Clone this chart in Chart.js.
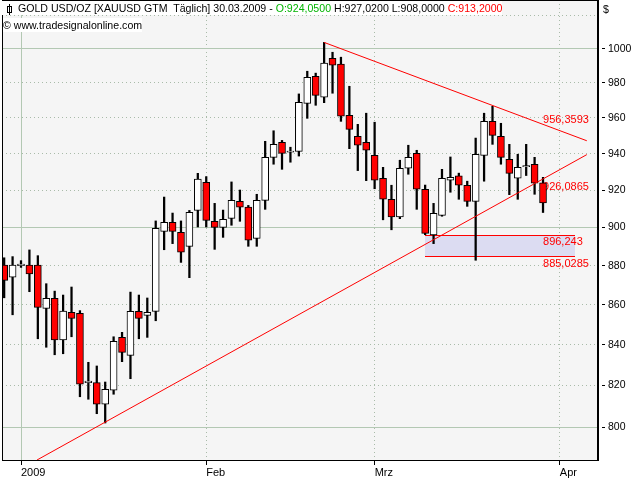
<!DOCTYPE html>
<html>
<head>
<meta charset="utf-8">
<script src="https://cdn.jsdelivr.net/npm/chart.js@4.4.1/dist/chart.umd.min.js"></script>
<style>
  body { margin: 0; background: #fff; }
  #wrap { position: relative; width: 640px; height: 480px; }
  .hdr { position: absolute; font: 10.6px "Liberation Sans", Arial, sans-serif; white-space: pre; background: #fff; line-height: 14px; color: #000; }
  .icon { display: inline-block; width: 3px; height: 5px; border: 1px solid #000; margin: 0 6px 0 5px; vertical-align: -1px; position: relative; }
  .icon:before { content: ""; position: absolute; left: 1px; top: -3px; width: 1px; height: 11px; background: #000; }
</style>
</head>
<body>
<div id="wrap">
  <canvas id="myChart" width="640" height="480"></canvas>
  <div class="hdr" style="left:2px; top:1px;"><span class="icon"></span>GOLD USD/OZ [XAUUSD GTM  Täglich] 30.03.2009 - <span style="color:#00b400">O:924,0500</span> H:927,0200 L:908,0000 <span style="color:#ff0000">C:913,2000</span></div>
  <div class="hdr" style="left:3px; top:18px;">© www.tradesignalonline.com</div>
  <div class="hdr" style="left:603px; top:2px; background:none;">$</div>
</div>
<script>
// trading days shown, 30.12.2008 .. 30.03.2009
const dates = [
  '30.12.2008', '31.12.2008',
  '01.01.2009', '02.01.2009', '05.01.2009', '06.01.2009', '07.01.2009', '08.01.2009', '09.01.2009',
  '12.01.2009', '13.01.2009', '14.01.2009', '15.01.2009', '16.01.2009', '19.01.2009', '20.01.2009',
  '21.01.2009', '22.01.2009', '23.01.2009', '26.01.2009', '27.01.2009', '28.01.2009', '29.01.2009', '30.01.2009',
  '02.02.2009', '03.02.2009', '04.02.2009', '05.02.2009', '06.02.2009', '09.02.2009', '10.02.2009',
  '11.02.2009', '12.02.2009', '13.02.2009', '16.02.2009', '17.02.2009', '18.02.2009', '19.02.2009',
  '20.02.2009', '23.02.2009', '24.02.2009', '25.02.2009', '26.02.2009', '27.02.2009',
  '02.03.2009', '03.03.2009', '04.03.2009', '05.03.2009', '06.03.2009', '09.03.2009', '10.03.2009',
  '11.03.2009', '12.03.2009', '13.03.2009', '16.03.2009', '17.03.2009', '18.03.2009', '19.03.2009',
  '20.03.2009', '23.03.2009', '24.03.2009', '25.03.2009', '26.03.2009', '27.03.2009', '30.03.2009'
];

const openPrices = [
  880.3, 874.0, 880.0, 880.3, 880.3, 858.1, 863.2, 842.3, 856.1, 855.6,
  821.4, 821.4, 811.0, 817.8, 843.6, 834.7, 856.6, 854.6, 856.6, 898.0,
  902.8, 897.5, 890.1, 909.1, 924.3, 903.3, 900.1, 904.9, 914.0, 910.9,
  894.3, 914.5, 938.0, 946.3, 940.8, 941.3, 968.3, 983.9, 971.8, 994.4,
  990.9, 961.5, 949.7, 946.3, 939.1, 926.5, 915.1, 905.7, 932.0, 940.2,
  920.5, 896.1, 906.5, 925.4, 927.8, 922.7, 914.0, 939.1, 958.1, 949.7,
  936.9, 926.5, 932.8, 934.2, 924.05
];
const highPrices = [
  884.1, 884.7, 882.6, 888.2, 885.2, 870.7, 866.9, 864.9, 869.0, 857.0,
  831.3, 829.5, 821.7, 843.9, 846.1, 866.4, 864.9, 863.4, 903.5, 916.3,
  907.7, 903.5, 909.1, 929.2, 927.4, 912.9, 909.3, 924.5, 920.1, 911.8,
  917.8, 946.9, 952.8, 947.4, 943.6, 973.7, 986.8, 985.7, 1003.7, 997.9,
  995.0, 978.1, 956.4, 962.7, 957.6, 932.5, 922.7, 936.4, 944.7, 941.9,
  922.8, 912.9, 931.4, 938.2, 929.3, 924.9, 948.7, 962.7, 966.6, 957.0,
  945.2, 939.7, 945.2, 938.0, 927.02
];
const lowPrices = [
  863.5, 854.9, 879.1, 866.6, 842.9, 838.7, 835.0, 835.5, 843.9, 814.6,
  813.4, 806.5, 802.1, 815.8, 831.6, 823.3, 842.9, 843.6, 851.9, 888.3,
  891.5, 881.7, 873.8, 900.3, 900.3, 888.5, 894.8, 901.2, 903.3, 890.1,
  890.1, 909.7, 934.2, 931.4, 935.3, 938.7, 959.8, 967.2, 968.7, 974.1,
  958.1, 942.8, 930.7, 925.2, 920.8, 904.1, 898.8, 904.7, 928.7, 909.7,
  896.2, 891.5, 906.0, 918.9, 915.1, 911.3, 882.8, 924.9, 945.2, 934.2,
  917.6, 915.1, 928.0, 917.8, 908.0
];
const closePrices = [
  872.4, 880.3, 880.8, 875.7, 858.6, 863.2, 842.3, 856.8, 853.1, 820.6,
  822.2, 811.0, 818.2, 841.6, 836.2, 856.6, 853.1, 856.1, 899.6, 902.8,
  898.0, 887.0, 908.1, 926.0, 903.8, 900.1, 904.4, 914.5, 910.8, 893.3,
  914.5, 938.0, 945.2, 940.2, 941.4, 968.9, 983.3, 972.9, 991.5, 990.3,
  961.0, 953.6, 944.7, 941.9, 925.4, 915.1, 905.7, 932.0, 938.0, 920.5,
  896.9, 907.6, 926.5, 927.0, 922.7, 914.0, 939.7, 958.1, 950.2, 938.0,
  929.2, 932.5, 933.4, 923.8, 913.2
];

// month ticks on the time axis (bar index -> label)
const monthTickIndex = [2, 24, 44, 66];
const monthTickText = ['2009', 'Feb', 'Mrz', 'Apr'];
// price axis ticks
const priceTicks = [800, 820, 840, 860, 880, 900, 920, 940, 960, 980, 1000, 1020];

// drawn trend lines: [bar index, price]
const upperTrend = [[38, 1003.7], [69.2, 947.2]];
const lowerTrend = [[3.9, 784.8], [69.2, 939.5]];
// support zone and line value markers
const zoneTop = 896.243;
const zoneBottom = 885.0285;
const zoneFrom = 50;
const zoneTo = 67.8;
const markerValues = [956.3593, 926.0865, 896.243, 885.0285];
const markerAbove = [true, false, false, false];

const SOLID = '#b3c8b3';
const DOTTED = '#a9bba9';
const UP = '#ffffff';
const DOWN = '#ff0000';

const isUp = i => closePrices[i] >= openPrices[i];

const bodies = dates.map((d, i) => ({ x: i, y: [openPrices[i], closePrices[i]] }));
const wicks = dates.map((d, i) => ({ x: i, y: [lowPrices[i], highPrices[i]] }));

const chartDecor = {
  id: 'chartDecor',
  beforeDraw(chart) {
    const { ctx, chartArea: a } = chart;
    ctx.save();
    ctx.fillStyle = '#ffffff';
    ctx.fillRect(0, 0, chart.width, chart.height);
    ctx.fillStyle = '#f5f5f5';
    ctx.fillRect(a.left, a.top, a.right - a.left, a.bottom - a.top);
    ctx.restore();
  },
  beforeDatasetsDraw(chart) {
    const { ctx, scales: { x, y } } = chart;
    ctx.save();
    const x1 = Math.round(x.getPixelForValue(zoneFrom));
    const x2 = Math.round(x.getPixelForValue(zoneTo));
    const yt = Math.round(y.getPixelForValue(zoneTop)) + 0.5;
    const yb = Math.round(y.getPixelForValue(zoneBottom)) + 0.5;
    ctx.fillStyle = '#dcdcf2';
    ctx.fillRect(x1, yt, x2 - x1, yb - yt);
    ctx.strokeStyle = '#ff0000';
    ctx.lineWidth = 1;
    ctx.beginPath();
    ctx.moveTo(x1, yt); ctx.lineTo(x2, yt);
    ctx.moveTo(x1, yb); ctx.lineTo(x2, yb);
    ctx.stroke();

    ctx.font = '11px "Liberation Sans", Arial, sans-serif';
    ctx.fillStyle = '#ff0000';
    ctx.textAlign = 'left';
    const lx = x.getPixelForValue(dates.length - 1);
    markerValues.forEach((v, i) => {
      const py = y.getPixelForValue(v);
      ctx.textBaseline = markerAbove[i] ? 'bottom' : 'top';
      ctx.fillText(String(v).replace('.', ','), lx, markerAbove[i] ? py + 1 : py + 2);
    });
    ctx.restore();
  },
  afterDraw(chart) {
    const { ctx, chartArea: a } = chart;
    ctx.save();
    ctx.strokeStyle = '#000';
    ctx.lineWidth = 1;
    ctx.strokeRect(a.left + 0.5, a.top + 0.5, a.right - a.left - 1, a.bottom - a.top);
    ctx.restore();
  }
};

const context = document.getElementById('myChart').getContext('2d');
const myChart = new Chart(context, {
  type: 'bar',
  data: {
    datasets: [
      {
        type: 'line',
        data: upperTrend.map(p => ({ x: p[0], y: p[1] })),
        borderColor: '#ff0000', borderWidth: 1, pointRadius: 0, order: 0
      },
      {
        type: 'line',
        data: lowerTrend.map(p => ({ x: p[0], y: p[1] })),
        borderColor: '#ff0000', borderWidth: 1, pointRadius: 0, order: 0
      },
      {
        data: bodies,
        backgroundColor: c => isUp(c.dataIndex) ? UP : DOWN,
        borderColor: '#000', borderWidth: 1, borderSkipped: false,
        barThickness: 7, grouped: false, order: 1
      },
      {
        data: wicks,
        backgroundColor: '#000', borderWidth: 0,
        barThickness: 1.6, grouped: false, order: 2
      }
    ]
  },
  options: {
    responsive: false,
    animation: false,
    events: [],
    layout: { padding: { left: 2, top: 0, right: 0, bottom: 0 } },
    plugins: { legend: { display: false }, tooltip: { enabled: false } },
    scales: {
      x: {
        type: 'linear',
        min: -0.257, max: 70.53,
        offset: false,
        afterBuildTicks: s => { s.ticks = monthTickIndex.map(v => ({ value: v })); },
        afterFit: s => { s.height = 20; s.paddingLeft = 0; s.paddingRight = 0; },
        grid: {
          offset: false,
          color: c => c.index === 0 ? SOLID : DOTTED,
          tickColor: '#000', tickLength: 5
        },
        border: { color: '#000', dash: c => c.index === 0 ? [] : [1, 3] },
        ticks: {
          autoSkip: false, maxRotation: 0, align: 'start', padding: 1,
          color: '#000', font: { family: '"Liberation Sans", Arial, sans-serif', size: 11 },
          callback: (v, i) => monthTickText[i]
        }
      },
      y: {
        type: 'logarithmic',
        position: 'right',
        min: 784.8, max: 1029.1,
        afterBuildTicks: s => { s.ticks = priceTicks.map(v => ({ value: v })); },
        afterFit: s => { s.width = 42; s.paddingTop = 0; s.paddingBottom = 0; },
        grid: {
          color: c => c.tick && c.tick.value % 100 === 0 ? SOLID : DOTTED,
          tickColor: c => c.tick && c.tick.value === 1020 ? 'rgba(0,0,0,0)' : '#000',
          tickLength: 7, tickBorderDash: [0, 3, 4, 10]
        },
        border: { color: '#000', dash: c => c.tick && c.tick.value % 100 === 0 ? [] : [1, 3] },
        ticks: {
          autoSkip: false, padding: 3, color: '#000',
          font: { family: '"Liberation Sans", Arial, sans-serif', size: 10.5 },
          callback: v => v === 1020 ? '' : String(v)
        }
      }
    }
  },
  plugins: [chartDecor]
});
</script>
</body>
</html>
